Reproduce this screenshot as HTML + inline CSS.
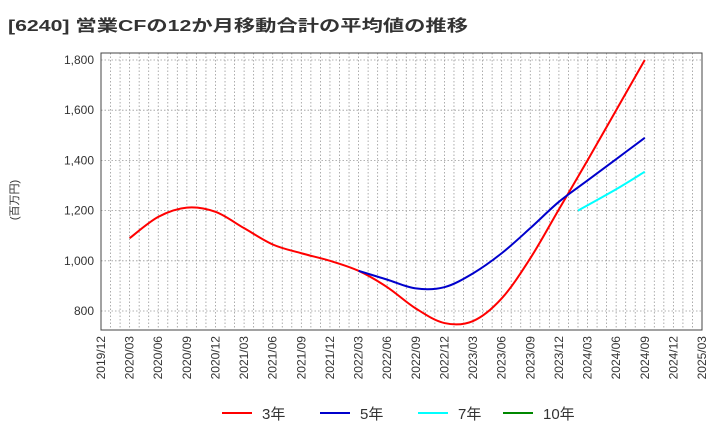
<!DOCTYPE html>
<html><head><meta charset="utf-8"><style>
body{margin:0;background:#fff;width:720px;height:440px;overflow:hidden;font-family:"Liberation Sans","Noto Sans CJK JP",sans-serif}
</style></head><body>
<svg width="720" height="440" xmlns="http://www.w3.org/2000/svg" font-family="Liberation Sans, Noto Sans CJK JP, sans-serif">
<text x="8" y="31" font-size="16" font-weight="bold" fill="#333" textLength="460" lengthAdjust="spacingAndGlyphs">[6240]  営業CFの12か月移動合計の平均値の推移</text>
<text transform="translate(18,200) rotate(-90)" text-anchor="middle" font-size="11" fill="#333">(百万円)</text>
<g id="grid"></g><g id="axes"></g><g id="series"></g>
<rect x="101" y="53" width="601" height="277" fill="none" stroke="#444" stroke-width="1"/>
<g id="legend"></g>
</svg>
<script>
const xLabels=["2019/12","2020/03","2020/06","2020/09","2020/12","2021/03","2021/06","2021/09","2021/12","2022/03","2022/06","2022/09","2022/12","2023/03","2023/06","2023/09","2023/12","2024/03","2024/06","2024/09","2024/12","2025/03"];
const yTicks=[800,1000,1200,1400,1600,1800];
const m3=[3,6,9,12,15,18,21,24,27,30,33,36,39,42,45,48,51,54,57];
const v3=[1090,1175,1212,1195,1130,1065,1030,1000,960,895,810,752,760,850,1010,1205,1400,1600,1800];
const m5=[27,30,33,36,39,42,45,48,51,54,57];
const v5=[960,925,890,895,950,1030,1130,1235,1320,1405,1490];
const m7=[50,54,57];
const v7=[1200,1285,1355];
const NS="http://www.w3.org/2000/svg";
const L=101,R=702,T=53,B=330;
const xs=m=>L+m*(R-L)/63;
const ys=v=>311-(v-800)*0.251;
function el(t,a,p){const e=document.createElementNS(NS,t);for(const k in a)e.setAttribute(k,a[k]);document.getElementById(p).appendChild(e);return e;}
for(let m=1;m<63;m++){const l=el('line',{x1:xs(m),x2:xs(m),y1:T,y2:B,stroke:'#999','stroke-width':0.8,'stroke-dasharray':'1.5,2'},'grid');

}
yTicks.forEach(v=>{const l=el('line',{x1:L,x2:R,y1:ys(v),y2:ys(v),stroke:'#999','stroke-width':0.8,'stroke-dasharray':'1.5,2'},'grid');


const t=el('text',{x:L-7,y:ys(v)+4,'text-anchor':'end','font-size':12,fill:'#333'},'axes');


t.textContent=v.toLocaleString('en-US');});
xLabels.forEach((s,i)=>{const x=xs(i*3);const t=el('text',{transform:`translate(${x+4},${B+6}) rotate(-90)`,'text-anchor':'end','font-size':12,fill:'#333'},'axes');


t.textContent=s;});
function path(ms,vs){const p=ms.map((m,i)=>[xs(m),ys(vs[i])]);let d=`M${p[0][0]},${p[0][1]}`;
for(let i=0;i<p.length-1;i++){const p0=p[i-1]||p[i],p1=p[i],p2=p[i+1],p3=p[i+2]||p2;
d+=` C${p1[0]+(p2[0]-p0[0])/6},${p1[1]+(p2[1]-p0[1])/6} ${p2[0]-(p3[0]-p1[0])/6},${p2[1]-(p3[1]-p1[1])/6} ${p2[0]},${p2[1]}`;}return d;}
[[m3,v3,'#f00','series-3yr'],[m5,v5,'#00c','series-5yr'],[m7,v7,'#0ff','series-7yr']].forEach(([m,v,c,n])=>{
const p=el('path',{d:path(m,v),fill:'none',stroke:c,'stroke-width':2},'series');

});
[['3年','#f00',222],['5年','#00c',320],['7年','#0ff',418],['10年','#080',503]].forEach(([s,c,x])=>{
const l=el('line',{x1:x,x2:x+30,y1:413,y2:413,stroke:c,'stroke-width':2},'legend');


const t=el('text',{x:x+40,y:419,'font-size':15,fill:'#333'},'legend');


t.textContent=s;});
</script>
</body></html>
